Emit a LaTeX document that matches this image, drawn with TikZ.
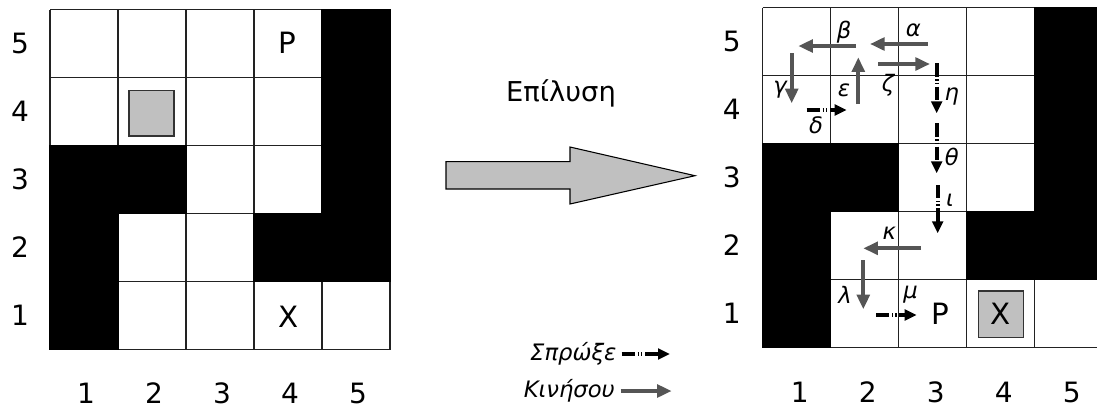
\documentclass[tikz,border=0pt]{standalone}
\usepackage{fontspec}
\setmainfont{DejaVu Sans}
\usetikzlibrary{arrows.meta}
\definecolor{mvc}{HTML}{555555}
\definecolor{bxc}{HTML}{C0C0C0}
\definecolor{gridc}{HTML}{222222}
\tikzset{
  gridline/.style={draw=gridc, line width=0.9pt},
  mvarrow/.style={draw=mvc, line width=3pt, -{Triangle[length=11pt,width=9.5pt]}},
  pusharrow/.style={draw=black, line width=3pt, dash pattern=on 10pt off 2pt on 1pt off 1.5pt on 1pt off 2pt, -{Triangle[length=9pt,width=8pt]}},
  lbl/.style={inner sep=0pt, font=\fontsize{17}{20}\selectfont\itshape},
  numlbl/.style={inner sep=0pt, font=\fontsize{21}{25}\selectfont},
  letter/.style={inner sep=0pt, font=\fontsize{22}{26}\selectfont},
  box/.style={fill=bxc, draw=black!80, line width=1.1pt},
  wall/.style={fill=black, draw=black, line width=0.9pt},
}
\newcommand{\warehouse}{%
  \fill[white] (0,0) rectangle (340,340);
  \foreach \i in {0,...,5} {
    \draw[gridline] ({\i*68},0) -- ({\i*68},340);
    \draw[gridline] (0,{\i*68}) -- (340,{\i*68});
  }
  \foreach \c/\r in {5/5,5/4,5/3,5/2,4/2,1/3,2/3,1/2,1/1}
    \filldraw[wall] ({(\c-1)*68},{(5-\r)*68}) rectangle +(68,68);
}
\begin{document}
\begin{tikzpicture}[x=0.75pt,y=-0.75pt]
\useasboundingbox (0,0) rectangle (1097,412);
\clip (0,0) rectangle (1097,412);
% left grid
\begin{scope}[shift={(50,9.5)}]
  \warehouse
\end{scope}
\foreach \r in {1,...,5} {
  \node[numlbl] (lr\r) at (20,{9.5+(5-\r)*68+34}) {\r};
  \node[numlbl] (lc\r) at ({50+(\r-1)*68+36},393) {\r};
}
\draw[box] (129,90.7) rectangle (174,136);
\node[letter] (lp) at (287,43) {P};
\node[letter] (lx) at (289,317) {X};
% big arrow
\filldraw[fill=bxc, draw=black, line width=0.8pt] (446,161.7) -- (570,161.7) -- (570,147) -- (695,175.7) -- (570,204) -- (570,189) -- (446,189) -- cycle;
\node[inner sep=0pt, font=\fontsize{20.5}{24}\selectfont] (sol) at (561,93) {Επίλυση};
% right grid
\begin{scope}[shift={(762.7,7.5)}]
  \warehouse
\end{scope}
\foreach \r in {1,...,5} {
  \node[numlbl] (rr\r) at (731.7,{7.5+(5-\r)*68+34}) {\r};
  \node[numlbl] (rc\r) at ({762.7+(\r-1)*68+37},392) {\r};
}
\draw[box] (978.3,291) rectangle (1023.3,337.7);
\node[letter] (rx) at (1000.8,314) {X};
\node[letter] (rp) at (940.7,313.5) {P};
% solution arrows
\draw[mvarrow] (927.7,44) -- (870,44);
\node[lbl] at (913.3,30) {α};
\draw[mvarrow] (856,46) -- (798.3,46);
\node[lbl] at (844,31.7) {β};
\draw[mvarrow] (791.7,53.3) -- (791.7,103.3);
\node[lbl] at (780,90) {γ};
\draw[pusharrow] (806.7,110) -- (846.7,110);
\node[lbl] at (816,125) {δ};
\draw[mvarrow] (858.3,104) -- (858.3,57.3);
\node[lbl] at (844,90.7) {ε};
\draw[mvarrow] (878.3,64) -- (930,64);
\node[lbl] at (888,85) {ζ};
\draw[pusharrow] (936.7,63.3) -- (936.7,113.3);
\node[lbl] at (951.7,96.7) {η};
\draw[pusharrow] (936.7,123.3) -- (936.7,173.3);
\node[lbl] at (951.7,156.7) {θ};
\draw[pusharrow] (937.7,185) -- (937.7,233.3);
\node[lbl] at (950,200) {ι};
\draw[mvarrow] (921,248.3) -- (863.3,248.3);
\node[lbl] at (889.3,233.3) {κ};
\draw[mvarrow] (863.3,260) -- (863.3,309.3);
\node[lbl] at (845,295) {λ};
\draw[pusharrow] (876,315) -- (916.7,315);
\node[lbl] at (910.7,295) {μ};
% legend
\node[lbl, anchor=east] (lgp) at (616.7,353.5) {Σπρώξε};
\node[lbl, anchor=east] (lgm) at (615,390.5) {Κινήσου};
\coordinate (pe) at (670,354);
\coordinate (me) at (671.7,391);
\draw[pusharrow] (621.7,354) -- (pe);
\draw[mvarrow] (620.7,391) -- (me);
\end{tikzpicture}
\end{document}
